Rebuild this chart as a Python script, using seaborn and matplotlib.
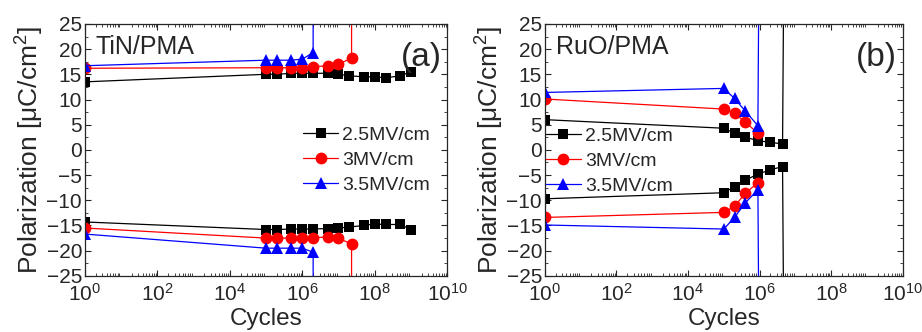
import numpy as np
import pandas as pd
import matplotlib
matplotlib.use("Agg")
import matplotlib.pyplot as plt
import seaborn as sns
from matplotlib.ticker import LogLocator, MultipleLocator, NullFormatter

sns.set_style("ticks")
plt.rcParams['font.family'] = ['Liberation Sans', 'DejaVu Sans']
plt.rcParams['mathtext.fontset'] = 'custom'
plt.rcParams['mathtext.rm'] = 'Liberation Sans'

labels = ["2.5MV/cm", "3MV/cm", "3.5MV/cm"]
colors = ["black", "red", "blue"]
markers = ["s", "o", "^"]

# ---------- panel (a) TiN/PMA ----------
# breakdown: last point shoots off the chart (value beyond axis limit)
a_x_25 = [1, 1e5, 2e5, 5e5, 1e6, 2e6, 5e6, 1e7, 2e7, 5e7, 1e8, 2e8, 5e8, 1e9]
a_top_25 = [13.5, 15.0, 15.0, 15.2, 15.2, 15.2, 15.2, 15.0, 14.7, 14.5, 14.5, 14.3, 14.7, 15.5]
a_bot_25 = [-14.3, -15.8, -15.8, -15.7, -15.7, -15.7, -15.6, -15.5, -15.3, -15.0, -14.7, -14.8, -14.8, -15.8]

a_x_3 = [1, 1e5, 2e5, 5e5, 1e6, 2e6, 5e6, 1e7, 2.3e7, 2.3e7]
a_top_3 = [16.2, 16.3, 16.3, 16.3, 16.3, 16.5, 16.7, 17.0, 18.2, 100]
a_bot_3 = [-15.5, -17.5, -17.5, -17.5, -17.5, -17.4, -17.3, -17.5, -18.7, -100]

a_x_35 = [1, 1e5, 2e5, 5e5, 1e6, 2e6, 2e6]
a_top_35 = [16.7, 17.8, 17.8, 17.8, 18.0, 19.3, 100]
a_bot_35 = [-16.7, -19.5, -19.5, -19.5, -19.5, -20.3, -100]

# ---------- panel (b) RuO/PMA ----------
b_x_25 = [1, 1e5, 2e5, 4e5, 9e5, 1.9e6, 4.4e6, 5.5e6]
b_top_25 = [6.0, 4.3, 3.3, 2.5, 1.85, 1.5, 1.2, 100]
b_bot_25 = [-9.7, -8.5, -7.3, -6.0, -4.8, -4.0, -3.3, -100]

b_x_3 = [1, 1e5, 2e5, 4e5, 9e5]
b_top_3 = [10.1, 8.1, 7.3, 5.5, 3.3]
b_bot_3 = [-13.4, -12.4, -11.2, -8.6, -6.5]

b_x_35 = [1, 1e5, 2e5, 4e5, 9e5, 1.1e6]
b_top_35 = [11.4, 12.2, 10.2, 7.7, 4.8, 100]
b_bot_35 = [-14.9, -15.7, -13.4, -10.5, -7.9, -100]

panels = [
    ("TiN/PMA", "(a)", [(a_x_25, a_top_25, a_bot_25), (a_x_3, a_top_3, a_bot_3), (a_x_35, a_top_35, a_bot_35)],
     (0.57, 0.64)),
    ("RuO/PMA", "(b)", [(b_x_25, b_top_25, b_bot_25), (b_x_3, b_top_3, b_bot_3), (b_x_35, b_top_35, b_bot_35)],
     (-0.03, 0.635)),
]

fig = plt.figure(figsize=(9.22, 3.32), dpi=100)
positions = [[0.092, 0.169, 0.393, 0.759], [0.591, 0.169, 0.388, 0.759]]

for pos, (name, tag, series, leg_xy) in zip(positions, panels):
    ax = fig.add_axes(pos)
    for (xs, top, bot), lab, c, m in zip(series, labels, colors, markers):
        df = pd.DataFrame({"Cycles": xs + xs, "P": top + bot,
                           "branch": ["top"] * len(xs) + ["bot"] * len(xs)})
        for br in ["top", "bot"]:
            sub = df[df["branch"] == br]
            sns.lineplot(data=sub, x="Cycles", y="P", ax=ax, color=c, marker=m,
                         markersize={"s": 7.5, "o": 8.5, "^": 8.5}[m], markeredgewidth=0,
                         linewidth=0.9, sort=False, estimator=None,
                         label=lab if br == "top" else None)
    ax.set_xscale("log")
    ax.set_xlim(1, 1e10)
    ax.set_ylim(-25, 25)
    ax.set_xticks([1, 1e2, 1e4, 1e6, 1e8, 1e10])
    ax.xaxis.set_minor_locator(LogLocator(base=10, subs=np.arange(2, 10), numticks=20))
    ax.xaxis.set_minor_formatter(NullFormatter())
    ax.yaxis.set_major_locator(MultipleLocator(5))
    ax.yaxis.set_minor_locator(MultipleLocator(2.5))
    ax.tick_params(which="both", direction="in", top=True, right=True)
    ax.tick_params(which="major", length=4, labelsize=15)
    ax.tick_params(axis="x", which="major", pad=5)
    ax.tick_params(axis="y", which="major", pad=2)
    ax.tick_params(which="minor", length=2)
    for sp in ax.spines.values():
        sp.set_linewidth(0.9)
    ax.set_xlabel("Cycles", fontsize=17.5, labelpad=2)
    ax.set_ylabel("Polarization [μC/cm$^2$]", fontsize=19, labelpad=1)
    ax.text(0.03, 0.955, name, transform=ax.transAxes, fontsize=18, va="top", ha="left")
    ax.text(0.985, 0.93, tag, transform=ax.transAxes, fontsize=24, va="top", ha="right")
    ax.legend(loc="upper left", bbox_to_anchor=leg_xy, frameon=False, fontsize=14,
              handlelength=1.8, handletextpad=0.2, labelspacing=0.38, borderpad=0.1)

fig.savefig("out.png", dpi=100)
